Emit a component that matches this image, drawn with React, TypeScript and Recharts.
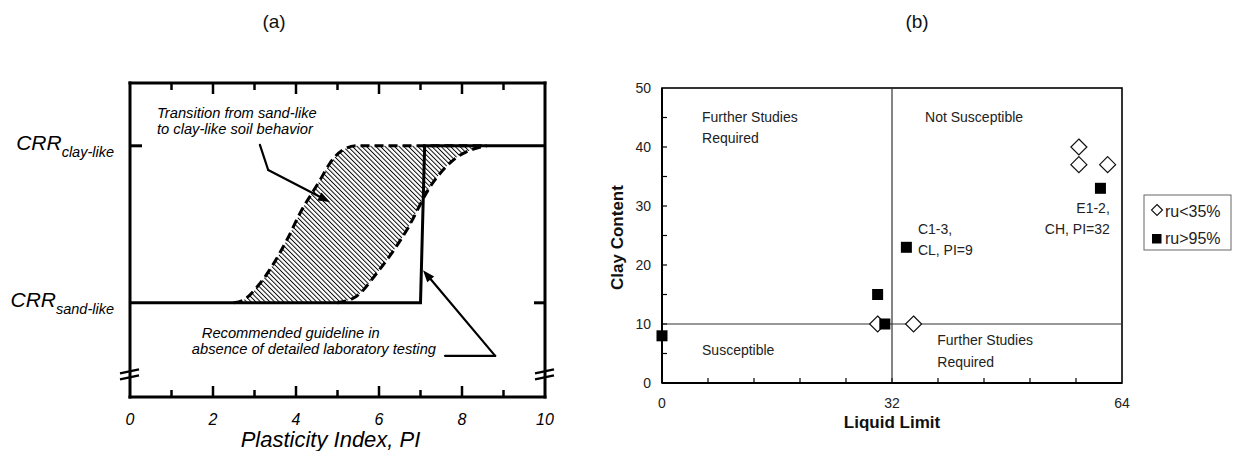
import React from "react";
import {
  ComposedChart,
  ScatterChart,
  Line,
  Area,
  Scatter,
  XAxis,
  YAxis,
  ReferenceLine,
  ReferenceDot,
  ReferenceArea,
} from "recharts";

// ---------- panel (a): CRR vs plasticity index ----------
const PI_LABELS = [0, 2, 4, 6, 8, 10];
const PI_FRAME_TICKS = [1, 2, 3, 4, 5, 6, 7, 8, 9];
const PI_MAX = 10;
const CRR_MAX = 10;
const CRR_SAND = 3;
const CRR_CLAY = 8;
const CRR_BREAK = 0.72;

const GUIDELINE = [
  { pi: 0, crr: 3 },
  { pi: 7.0, crr: 3 },
  { pi: 7.1, crr: 8 },
  { pi: 10, crr: 8 },
];

// upper/left dashed bound of the transition band
const TRANSITION_UPPER = [
  { pi: 2.5, crr: 3.0 },
  { pi: 2.75, crr: 3.1 },
  { pi: 3.06, crr: 3.5 },
  { pi: 3.78, crr: 5.0 },
  { pi: 4.1, crr: 5.86 },
  { pi: 4.58, crr: 6.91 },
  { pi: 4.82, crr: 7.45 },
  { pi: 5.13, crr: 7.87 },
  { pi: 5.47, crr: 8.0 },
  { pi: 8.5, crr: 8.0 },
];

// lower/right dashed bound
const TRANSITION_LOWER = [
  { pi: 5.0, crr: 3.0 },
  { pi: 5.45, crr: 3.2 },
  { pi: 5.95, crr: 3.95 },
  { pi: 6.67, crr: 5.32 },
  { pi: 7.23, crr: 6.69 },
  { pi: 7.88, crr: 7.64 },
  { pi: 8.36, crr: 7.93 },
  { pi: 8.6, crr: 8.0 },
];

// ---------- panel (b): clay content vs liquid limit ----------
const LL_MAX = 64;
const CLAY_MAX = 50;
const LL_LABELS = [0, 32, 64];
const LL_MINOR = [6.4, 12.8, 19.2, 25.6, 32, 38.4, 44.8, 51.2, 57.6];
const CLAY_LABELS = [0, 10, 20, 30, 40, 50];
const CLAY_MINOR = [5, 10, 15, 20, 25, 30, 35, 40, 45];
const LL_LIMIT = 32;
const CLAY_LIMIT = 10;

const RU_LOW = [
  { ll: 30, clay: 10 },
  { ll: 35, clay: 10 },
  { ll: 58, clay: 40 },
  { ll: 58, clay: 37 },
  { ll: 62, clay: 37 },
];
const RU_HIGH = [
  { ll: 0, clay: 8 },
  { ll: 30, clay: 15 },
  { ll: 31, clay: 10 },
  { ll: 34, clay: 23 },
  { ll: 61, clay: 33 },
];
const SERIES_NAMES = ["ru<35%", "ru>95%"];

const FONT = "'Liberation Sans', Arial, Helvetica, sans-serif";
const INK = "#222";

// ---------- shapes ----------
function PiTickBottom(p: any) {
  return (
    <text x={p.x} y={p.y + 28} textAnchor="middle" fontSize={16} fontStyle="italic" fill="#000">
      {p.payload.value}
    </text>
  );
}

function CrrTick(p: any) {
  const v = p.payload.value;
  const sub = v === CRR_CLAY ? "clay-like" : "sand-like";
  return (
    <g>
      {v === CRR_CLAY ? <rect x={p.x} y={p.y - 1.5} width={12} height={3} fill="#000" /> : null}
      <text x={p.x - 16} y={p.y + 4} textAnchor="end" fontStyle="italic" fill="#000">
        <tspan fontSize={21}>CRR</tspan>
        <tspan fontSize={14.5} dy={7}>
          {sub}
        </tspan>
      </text>
    </g>
  );
}

// frame decorations of panel (a): inward ticks, right-hand CRR tick and axis breaks
function frameMarksA(p: any) {
  const x = Number(p.x);
  const y = Number(p.y);
  const w = Number(p.width);
  const h = Number(p.height);
  const bottom = y + h;
  const right = x + w;
  const yAt = (v: number) => y + h * (1 - v / CRR_MAX);
  const yb = yAt(CRR_BREAK);
  const marks: any[] = [];
  for (let i = 0; i < PI_FRAME_TICKS.length; i++) {
    const v = PI_FRAME_TICKS[i];
    const tx = x + (w * v) / PI_MAX;
    const len = v % 2 === 0 ? 11 : 7;
    marks.push(<line key={`b${i}`} x1={tx} x2={tx} y1={bottom} y2={bottom - len} stroke="#000" strokeWidth={2.5} />);
    marks.push(<line key={`t${i}`} x1={tx} x2={tx} y1={y} y2={y + len} stroke="#000" strokeWidth={2.5} />);
  }
  const brk = (cx: number, k: string) => (
    <g key={k}>
      <polygon points={`${cx - 3},${yb + 3} ${cx + 3},${yb + 1.5} ${cx + 3},${yb - 3.5} ${cx - 3},${yb - 2}`} fill="#fff" />
      <line x1={cx - 10} y1={yb - 1} x2={cx + 9} y2={yb - 5} stroke="#000" strokeWidth={2.5} />
      <line x1={cx - 10} y1={yb + 5} x2={cx + 9} y2={yb + 1} stroke="#000" strokeWidth={2.5} />
    </g>
  );
  return (
    <g>
      {marks}
      <rect x={right - 11} y={yAt(CRR_SAND) - 1.5} width={11} height={3} fill="#000" />
      {brk(x, "l")}
      {brk(right, "r")}
    </g>
  );
}

function arrowShape(head: boolean) {
  return (p: any) => {
    const { x1, y1, x2, y2 } = p;
    const ang = Math.atan2(y2 - y1, x2 - x1);
    const L = 12;
    const W = 4.5;
    const bx = x2 - L * Math.cos(ang);
    const by = y2 - L * Math.sin(ang);
    const nx = -Math.sin(ang) * W;
    const ny = Math.cos(ang) * W;
    return (
      <g>
        <line x1={x1} y1={y1} x2={head ? bx : x2} y2={head ? by : y2} stroke="#000" strokeWidth={2.2} strokeLinecap="round" />
        {head ? (
          <polygon points={`${x2},${y2} ${bx + nx},${by + ny} ${bx - nx},${by - ny}`} fill="#000" />
        ) : null}
      </g>
    );
  };
}

function note(key: string, x: number, y: number, text: string, opts: any, axes: any = {}) {
  return (
    <ReferenceDot
      key={key}
      x={x}
      y={y}
      {...axes}
      ifOverflow="visible"
      shape={(p: any) => (
        <text x={p.cx} y={p.cy} textAnchor={opts.anchor || "start"} fontSize={opts.size} fontStyle={opts.italic ? "italic" : "normal"} fill={opts.color || "#000"}>
          {text}
        </text>
      )}
    />
  );
}

function seg(key: string, a: [number, number], b: [number, number], head: boolean) {
  return (
    <ReferenceLine
      key={key}
      xAxisId="b"
      yAxisId="l"
      segment={[
        { x: a[0], y: a[1] },
        { x: b[0], y: b[1] },
      ]}
      shape={arrowShape(head)}
    />
  );
}

function Diamond(p: any) {
  const { cx, cy } = p;
  const r = 8;
  return <polygon points={`${cx},${cy - r} ${cx + r},${cy} ${cx},${cy + r} ${cx - r},${cy}`} fill="#fff" stroke="#111" strokeWidth={1.2} />;
}

function Square(p: any) {
  const { cx, cy } = p;
  return <rect x={cx - 5.5} y={cy - 5.5} width={11} height={11} fill="#000" />;
}

function LLTick(p: any) {
  return (
    <text x={p.x} y={p.y + 25} textAnchor="middle" fontSize={14} fill={INK}>
      {p.payload.value}
    </text>
  );
}

function ClayTick(p: any) {
  return (
    <text x={p.x - 11} y={p.y + 5} textAnchor="end" fontSize={14} fill={INK}>
      {p.payload.value}
    </text>
  );
}

// frame of panel (b) with small inward ticks
function frameB(p: any) {
  const x = Number(p.x);
  const y = Number(p.y);
  const w = Number(p.width);
  const h = Number(p.height);
  const bottom = y + h;
  const marks: any[] = [];
  for (let i = 0; i < LL_MINOR.length; i++) {
    const tx = x + (w * LL_MINOR[i]) / LL_MAX;
    marks.push(<line key={`x${i}`} x1={tx} x2={tx} y1={bottom} y2={bottom - 5} stroke="#000" strokeWidth={1.2} />);
  }
  for (let i = 0; i < CLAY_MINOR.length; i++) {
    const ty = y + h * (1 - CLAY_MINOR[i] / CLAY_MAX);
    marks.push(<line key={`y${i}`} x1={x} x2={x + 5} y1={ty} y2={ty} stroke="#000" strokeWidth={1.2} />);
  }
  return (
    <g>
      <rect x={x} y={y} width={w} height={h} fill="none" stroke="#000" strokeWidth={1.6} />
      {marks}
    </g>
  );
}

const frameA = { stroke: "#000", strokeWidth: 3, strokeLinecap: "square" as const };

function PanelA() {
  const ax = { xAxisId: "b", yAxisId: "l" };
  const it = { size: 14.7, italic: true };
  return (
    <ComposedChart width={600} height={451} margin={{ top: 53, right: 25, bottom: 24, left: 70 }}>
      <defs>
        <pattern id="hatch" patternUnits="userSpaceOnUse" width={3.3} height={10} patternTransform="rotate(-45)">
          <rect x={0} y={0} width={0.95} height={10} fill="#000" />
        </pattern>
      </defs>
      <XAxis
        xAxisId="b"
        type="number"
        dataKey="pi"
        domain={[0, PI_MAX]}
        ticks={PI_LABELS}
        interval={0}
        height={30}
        tickSize={0}
        tickMargin={0}
        tickLine={false}
        axisLine={frameA}
        tick={PiTickBottom}
        label={{
          content: (p: any) => (
            <text x={p.viewBox.x + p.viewBox.width / 2 - 7} y={p.viewBox.y + 50} textAnchor="middle" fontSize={22} fontStyle="italic" fill="#000">
              Plasticity Index, PI
            </text>
          ),
        }}
      />
      <XAxis xAxisId="t" orientation="top" type="number" domain={[0, PI_MAX]} height={30} tick={false} tickLine={false} axisLine={frameA} />
      <YAxis
        yAxisId="l"
        type="number"
        dataKey="crr"
        domain={[0, CRR_MAX]}
        ticks={[CRR_SAND, CRR_CLAY]}
        width={60}
        tickSize={0}
        tickMargin={0}
        tickLine={false}
        axisLine={frameA}
        tick={CrrTick}
      />
      <YAxis yAxisId="r" orientation="right" type="number" domain={[0, CRR_MAX]} width={30} tick={false} tickLine={false} axisLine={frameA} />

      <Area {...ax} data={TRANSITION_UPPER} dataKey="crr" type="monotone" baseValue={CRR_SAND} fill="url(#hatch)" fillOpacity={1} stroke="none" isAnimationActive={false} />
      <Area {...ax} data={TRANSITION_LOWER} dataKey="crr" type="monotone" baseValue={CRR_SAND - 0.12} fill="#fff" fillOpacity={1} stroke="none" isAnimationActive={false} />
      <Line {...ax} data={TRANSITION_UPPER} dataKey="crr" type="monotone" stroke="#000" strokeWidth={3} strokeDasharray="9 5" dot={false} isAnimationActive={false} />
      <Line {...ax} data={TRANSITION_LOWER} dataKey="crr" type="monotone" stroke="#000" strokeWidth={3} strokeDasharray="9 5" dot={false} isAnimationActive={false} />
      <Line {...ax} data={GUIDELINE} dataKey="crr" type="linear" stroke="#000" strokeWidth={3} dot={false} isAnimationActive={false} />

      {seg("a1", [3.13, 8.03], [3.33, 7.23], false)}
      {seg("a2", [3.33, 7.23], [4.82, 6.21], true)}
      {seg("a3", [7.59, 1.31], [8.8, 1.31], false)}
      {seg("a4", [8.8, 1.31], [7.06, 4.04], true)}

      {note("t1", 0.65, 8.89, "Transition from sand-like", it, ax)}
      {note("t2", 0.65, 8.38, "to clay-like soil behavior", it, ax)}
      {note("t3", 1.73, 1.88, "Recommended guideline in", it, ax)}
      {note("t4", 1.49, 1.37, "absence of detailed laboratory testing", it, ax)}

      <ReferenceArea {...ax} x1={0} x2={PI_MAX} y1={0} y2={CRR_MAX} ifOverflow="visible" shape={frameMarksA} />
    </ComposedChart>
  );
}

function PanelB() {
  const t = { size: 14, color: INK };
  return (
    <ScatterChart width={634} height={451} margin={{ top: 88, right: 112, bottom: 38, left: 22 }}>
      <XAxis
        type="number"
        dataKey="ll"
        domain={[0, LL_MAX]}
        ticks={LL_LABELS}
        interval={0}
        height={30}
        tickSize={0}
        tickMargin={0}
        tickLine={false}
        axisLine={{ stroke: "#000", strokeWidth: 2 }}
        tick={LLTick}
        label={{
          content: (p: any) => (
            <text x={p.viewBox.x + p.viewBox.width / 2} y={p.viewBox.y + 45} textAnchor="middle" fontSize={17} fontWeight="bold" fill="#111">
              Liquid Limit
            </text>
          ),
        }}
      />
      <YAxis
        type="number"
        dataKey="clay"
        domain={[0, CLAY_MAX]}
        ticks={CLAY_LABELS}
        interval={0}
        width={40}
        tickSize={0}
        tickMargin={0}
        tickLine={false}
        axisLine={{ stroke: "#000", strokeWidth: 2 }}
        tick={ClayTick}
        label={{
          content: (p: any) => {
            const x = p.viewBox.x + 1;
            const y = p.viewBox.y + p.viewBox.height / 2 + 2;
            return (
              <text x={x} y={y} transform={`rotate(-90 ${x} ${y})`} textAnchor="middle" fontSize={17} fontWeight="bold" fill="#111">
                Clay Content
              </text>
            );
          },
        }}
      />
      <ReferenceArea x1={0} x2={LL_MAX} y1={0} y2={CLAY_MAX} ifOverflow="visible" shape={frameB} />
      <ReferenceLine x={LL_LIMIT} stroke="#333" strokeWidth={1.2} />
      <ReferenceLine y={CLAY_LIMIT} stroke="#333" strokeWidth={1.2} />

      {note("b1", 5.57, 44.2, "Further Studies", t)}
      {note("b2", 5.57, 40.6, "Required", t)}
      {note("b3", 36.6, 44.2, "Not Susceptible", t)}
      {note("b4", 5.57, 4.75, "Susceptible", t)}
      {note("b5", 38.3, 6.44, "Further Studies", t)}
      {note("b6", 38.3, 2.71, "Required", t)}
      {note("b7", 35.6, 25.25, "C1-3,", t)}
      {note("b8", 35.6, 21.7, "CL, PI=9", t)}
      {note("b9", 62.3, 28.8, "E1-2,", { ...t, anchor: "end" })}
      {note("b10", 62.3, 25.25, "CH, PI=32", { ...t, anchor: "end" })}

      <Scatter name={SERIES_NAMES[0]} data={RU_LOW} shape={Diamond} isAnimationActive={false} />
      <Scatter name={SERIES_NAMES[1]} data={RU_HIGH} shape={Square} isAnimationActive={false} />
    </ScatterChart>
  );
}

function LegendBox() {
  return (
    <svg width={90} height={58} style={{ position: "absolute", left: 1143, top: 194 }}>
      <rect x={1} y={1} width={87} height={55} fill="#fff" stroke="#666" strokeWidth={1} />
      <polygon points="14,10.5 19.5,16 14,21.5 8.5,16" fill="#fff" stroke="#111" strokeWidth={1.1} />
      <text x={22} y={23} fontSize={16} fill={INK}>
        {SERIES_NAMES[0]}
      </text>
      <rect x={9} y={40} width={9.5} height={9.5} fill="#000" />
      <text x={22} y={50} fontSize={16} fill={INK}>
        {SERIES_NAMES[1]}
      </text>
    </svg>
  );
}

export default function App() {
  return (
    <div style={{ position: "absolute", left: 0, top: 0, width: 1234, height: 451, background: "#fff", fontFamily: FONT, overflow: "hidden" }}>
      <div style={{ position: "absolute", left: 0, top: 0 }}>
        <PanelA />
      </div>
      <div style={{ position: "absolute", left: 600, top: 0 }}>
        <PanelB />
      </div>
      <div style={{ position: "absolute", left: 274, top: 11, transform: "translateX(-50%)", fontSize: 19, lineHeight: "22px", color: "#111" }}>(a)</div>
      <div style={{ position: "absolute", left: 917, top: 11, transform: "translateX(-50%)", fontSize: 19, lineHeight: "22px", color: "#111" }}>(b)</div>
      <LegendBox />
    </div>
  );
}
